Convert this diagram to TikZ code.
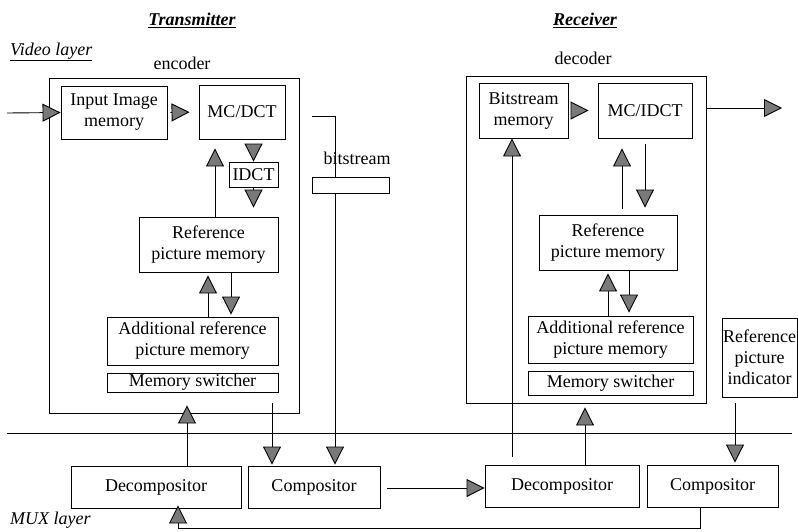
\documentclass[tikz,border=0pt]{standalone}
\usepackage{fontspec}
\setmainfont{Liberation Serif}
\usetikzlibrary{arrows.meta,calc}
\begin{document}
\begin{tikzpicture}[x=1pt,y=-1pt,
  every node/.style={font=\fontsize{18}{21}\selectfont},
  box/.style={draw, line width=0.9pt, inner sep=0pt, align=center},
  lbl/.style={inner sep=0pt},
  ttl/.style={inner sep=0pt, font=\fontsize{18}{21}\selectfont\bfseries\itshape},
  lay/.style={inner sep=0pt, font=\fontsize{18}{21}\selectfont\itshape},
  conn/.style={line width=0.9pt},
  tri/.style={conn, -{Triangle[length=18pt,width=18pt,fill=gray!50!black!70,line width=0.9pt]}}
]
\useasboundingbox (0,0) rectangle (798,531);
% titles
\node[ttl] (ttx) at (192,20) {\underline{Transmitter}};
\node[ttl] (trx) at (585,20) {\underline{Receiver}};
\node[lay, anchor=west] (vlay) at (10,52) {\underline{Video layer}};
\node[lay, anchor=base west] (mlay) at (10,524) {MUX layer};
\node[lbl] (enclbl) at (182,63) {encoder};
\node[lbl] (declbl) at (583,58) {decoder};
% encoder
\node[box, minimum width=250, minimum height=335] (enc) at (174,245.5) {};
\node[box, minimum width=106, minimum height=53] (inimg) at (114,112.5) {Input Image\\memory};
\node[box, minimum width=86, minimum height=54] (mcdct) at (242,112) {MC/DCT};
\node[box, minimum width=49, minimum height=25] (idct) at (253.5,174.5) {IDCT};
\node[box, minimum width=139, minimum height=55] (ref1) at (208.5,244.5) {Reference\\picture memory};
\node[box, minimum width=171, minimum height=48] (add1) at (192.5,341) {Additional reference\\picture memory};
\node[box, minimum width=171, minimum height=19] (msw1) at (192.5,382.5) {Memory switcher};
% bitstream
\node[box, minimum width=77, minimum height=16] (bsbox) at (350.5,185) {};
\node[lbl] (bslbl) at (357,158) {bitstream};
% decoder
\node[box, minimum width=240, minimum height=327] (dec) at (586,239.5) {};
\node[box, minimum width=89, minimum height=55] (bsmem) at (523.5,110.5) {Bitstream\\memory};
\node[box, minimum width=94, minimum height=55] (mcidct) at (645,110.5) {MC/IDCT};
\node[box, minimum width=138, minimum height=55] (ref2) at (608,242.5) {Reference\\picture memory};
\node[box, minimum width=165, minimum height=47] (add2) at (610.5,339.5) {Additional reference\\picture memory};
\node[box, minimum width=165, minimum height=24] (msw2) at (610.5,383) {Memory switcher};
\node[box, minimum width=75, minimum height=79] (rpi) at (759.5,357.5) {Reference\\picture\\indicator};
% MUX layer
\node[box, minimum width=170, minimum height=42] (decomp1) at (156,487) {Decompositor};
\node[box, minimum width=132, minimum height=42] (comp1) at (314,487) {Compositor};
\node[box, minimum width=154, minimum height=42] (decomp2) at (562,486) {Decompositor};
\node[box, minimum width=131, minimum height=42] (comp2) at (712.5,486) {Compositor};
% coordinates
\coordinate (vin) at (7,113);
\coordinate (bs0) at (312,116);
\coordinate (vout) at (782,108);
\coordinate (muxL) at (7,433);
\coordinate (muxR) at (792,433);
\coordinate (loopB) at (700,528);
% MUX separator
\draw[conn] (muxL) -- (muxR);
% encoder connectors
\draw[tri] (vin) -- (inimg.west);
\draw[tri, shorten <=3pt, shorten >=9pt] (inimg.east) -- (mcdct.west);
\draw[tri, shorten <=5pt] (idct.north |- mcdct.south) -- (idct.north);
\draw[tri, shorten >=9pt] (idct.south) -- (idct.south |- ref1.north);
\draw[tri, shorten >=9pt] (215,0 |- ref1.north) -- (215,0 |- mcdct.south);
\draw[tri, shorten >=3pt] (208,0 |- add1.north) -- (208,0 |- ref1.south);
\draw[tri, shorten >=2pt] (231,0 |- ref1.south) -- (231,0 |- add1.north);
\draw[tri, shorten >=-8pt] (187,0 |- decomp1.north) -- (187,0 |- enc.south);
\draw[tri, shorten <=-10pt, shorten >=1pt] (272,0 |- enc.south) -- (272,0 |- comp1.north);
% bitstream
\draw[conn] (bs0) -- (335,116) -- (335,0 |- bsbox.north);
\draw[tri, shorten >=1pt] (335,0 |- bsbox.south) -- (335,0 |- comp1.north);
% compositor to decompositor
\draw[tri, shorten <=7pt] (comp1.east |- 0,488) -- (decomp2.west |- 0,488);
% decoder connectors
\draw[tri, shorten <=8pt] (512,0 |- decomp2.north) -- (512,0 |- bsmem.south);
\draw[tri, shorten >=4pt] (585,0 |- decomp2.north) -- (585,0 |- dec.south);
\draw[tri, shorten <=3pt, shorten >=9pt] (bsmem.east) -- (mcidct.west);
\draw[tri, shorten <=6pt, shorten >=10pt] (622,0 |- ref2.north) -- (622,0 |- mcidct.south);
\draw[tri, shorten <=6pt, shorten >=7pt] (645,0 |- mcidct.south) -- (645,0 |- ref2.north);
\draw[tri, shorten >=3pt] (608,0 |- add2.north) -- (608,0 |- ref2.south);
\draw[tri, shorten >=3pt] (629,0 |- ref2.south) -- (629,0 |- add2.north);
\draw[tri] (dec.east |- vout) -- (vout);
\draw[tri, shorten <=6pt, shorten >=2pt] (735,0 |- rpi.south) -- (735,0 |- comp2.north);
% loop back
\draw[tri, shorten >=-3pt] (loopB |- comp2.south) -- (loopB) -- (178,528) -- (178,0 |- decomp1.south);
\end{tikzpicture}
\end{document}
